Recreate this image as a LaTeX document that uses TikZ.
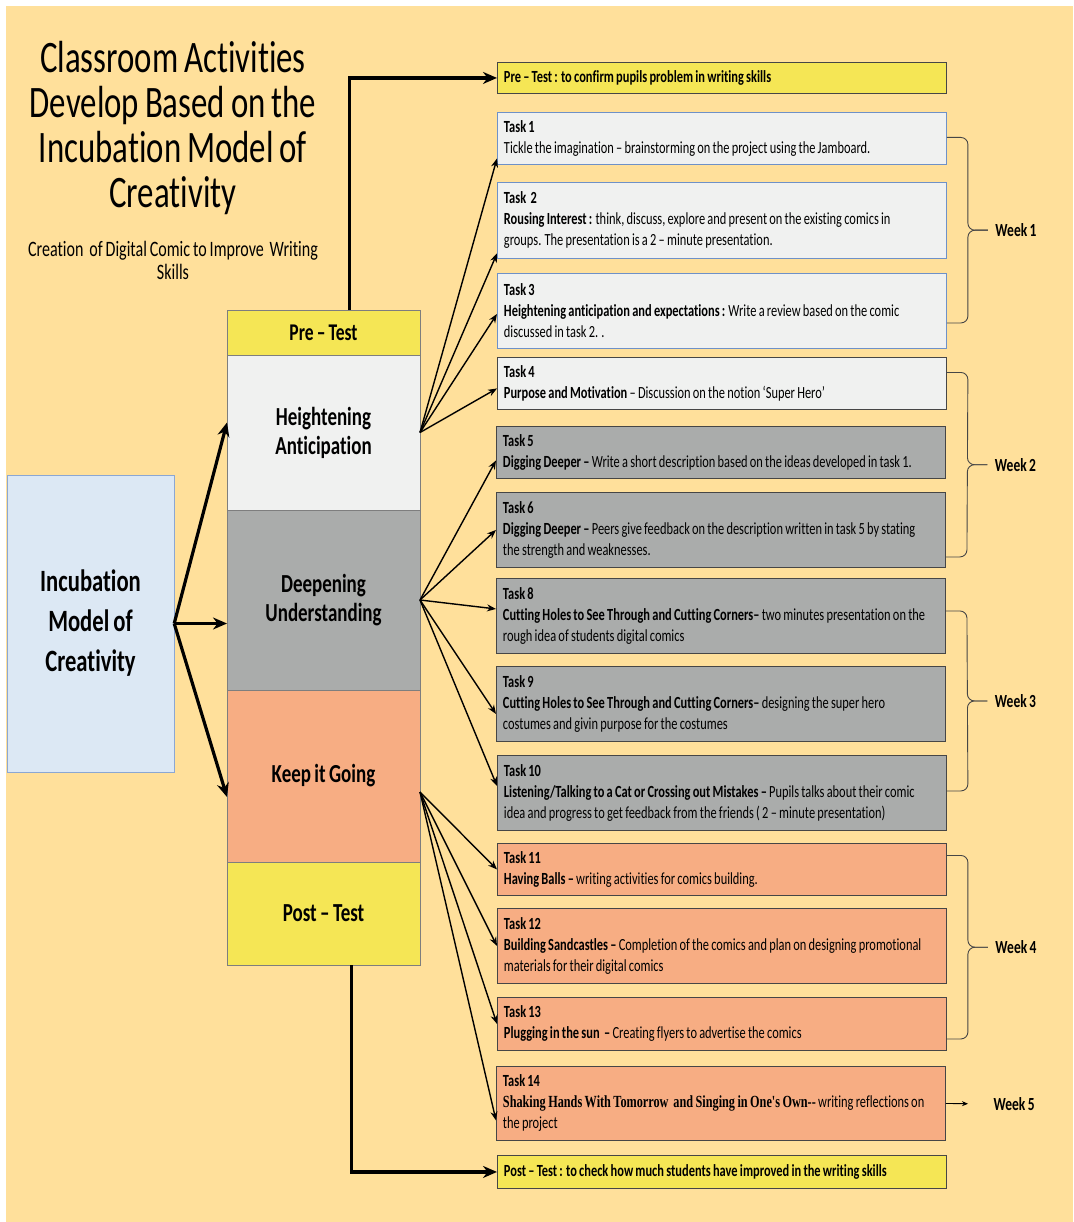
\documentclass[tikz,border=0pt]{standalone}
\usepackage{fontspec}
\setmainfont[FakeStretch=0.73, WordSpace=0.8, Ligatures=NoCommon]{Carlito}
\newfontfamily\timesbold[FakeStretch=0.72, WordSpace=0.8]{Liberation Serif}
\usetikzlibrary{arrows.meta,calc,positioning}

\definecolor{bgyellow}{RGB}{255,224,155}
\definecolor{testyellow}{RGB}{245,230,85}
\definecolor{lightgrey}{RGB}{240,241,240}
\definecolor{midgrey}{RGB}{170,172,171}
\definecolor{salmon}{RGB}{247,173,131}
\definecolor{paleblue}{RGB}{220,232,244}
\definecolor{taskblue}{RGB}{110,145,200}
\definecolor{darkline}{RGB}{70,70,70}

\begin{document}
\begin{tikzpicture}[x=1pt, y=-1pt,
	stage/.style = {draw=darkline!70, fill=#1, minimum width=193pt, outer sep=0pt, inner sep=0pt, align=center, font=\fontsize{26}{29}\selectfont\bfseries},
	task/.style = {draw=darkline, line width=0.9pt, fill=#1, minimum width=449pt, text width=436pt, inner xsep=6.5pt, inner ysep=0pt, align=flush left, anchor=north west, font=\fontsize{17}{21}\selectfont},
	link/.style = {-{Stealth[length=9pt, width=7pt]}, line width=1.4pt},
	biglink/.style = {-{Stealth[length=14pt, width=12pt]}, line width=3.2pt},
	bracket/.style = {draw=darkline, line width=0.9pt, rounded corners=7pt},
	weektag/.style = {anchor=west, font=\fontsize{18.5}{20}\selectfont\bfseries}]
	
	\useasboundingbox (0,0) rectangle (1073,1222);
	\fill[bgyellow] (6,6) rectangle (1073,1222);
	
	% title
	\node[font=\fontsize{45}{45}\selectfont, align=center] (title) at (173,128) {Classroom Activities\\Develop Based on the\\Incubation Model of\\Creativity};
	\node[font=\fontsize{22}{23}\selectfont, align=center] (subtitle) at (173,260) {Creation\ \ of Digital Comic to Improve\ \ Writing\\Skills};
	
	% model and stages
	\node[draw=taskblue!80, fill=paleblue, minimum width=167pt, minimum height=297pt, align=center, font=\fontsize{31}{40}\selectfont\bfseries] (incub) at (90.5,623.5) {Incubation\\Model of\\Creativity};
	
	\node[stage=testyellow, minimum height=45pt, font=\fontsize{24}{26}\selectfont\bfseries] (pre) at (323.5,332.5) {Pre -- Test};
	\node[stage=lightgrey, minimum height=155pt, below=0pt of pre] (heighten) {Heightening\\Anticipation};
	\node[stage=midgrey, minimum height=180pt, below=0pt of heighten] (deepen) {Deepening\\Understanding};
	\node[stage=salmon, minimum height=172pt, below=0pt of deepen] (keep) {Keep it Going};
	\node[stage=testyellow, minimum height=103pt, below=0pt of keep] (post) {Post -- Test};
	
	% tasks
	\node[task=testyellow, minimum height=31pt] (pretask) at (497,62) {\textbf{Pre -- Test : to confirm pupils problem in writing skills}};
	\node[task=lightgrey, draw=taskblue, minimum height=52pt] (t1) at (497,112) {\textbf{Task 1}\\Tickle the imagination -- brainstorming on the project using the Jamboard.};
	\node[task=lightgrey, draw=taskblue, minimum height=76pt] (t2) at (497,182) {\textbf{Task\ \ 2}\\\textbf{Rousing Interest :} think, discuss, explore and present on the existing comics in\\groups. The presentation is a 2 -- minute presentation.};
	\node[task=lightgrey, draw=taskblue, minimum height=75pt] (t3) at (497,273) {\textbf{Task 3}\\\textbf{Heightening anticipation and expectations :} Write a review based on the comic\\discussed in task 2. .};
	\node[task=lightgrey, minimum height=52pt] (t4) at (497,357) {\textbf{Task 4}\\\textbf{Purpose and Motivation} -- Discussion on the notion `Super Hero'};
	\node[task=midgrey, minimum height=52pt] (t5) at (496,426) {\textbf{Task 5}\\\textbf{Digging Deeper --} Write a short description based on the ideas developed in task 1.};
	\node[task=midgrey, minimum height=75pt] (t6) at (496,492) {\textbf{Task 6}\\\textbf{Digging Deeper --} Peers give feedback on the description written in task 5 by stating\\the strength and weaknesses.};
	\node[task=midgrey, minimum height=75pt] (t8) at (496,578) {\textbf{Task 8}\\\textbf{Cutting Holes to See Through and Cutting Corners--} two minutes presentation on the\\rough idea of students digital comics};
	\node[task=midgrey, minimum height=75pt] (t9) at (496,666) {\textbf{Task 9}\\\textbf{Cutting Holes to See Through and Cutting Corners--} designing the super hero\\costumes and givin purpose for the costumes};
	\node[task=midgrey, minimum height=75pt] (t10) at (497,755) {\textbf{Task 10}\\\textbf{Listening/Talking to a Cat or Crossing out Mistakes --} Pupils talks about their comic\\idea and progress to get feedback from the friends ( 2 -- minute presentation)};
	\node[task=salmon, minimum height=52pt] (t11) at (497,843) {\textbf{Task 11}\\\textbf{Having Balls --} writing activities for comics building.};
	\node[task=salmon, minimum height=75pt] (t12) at (497,908) {\textbf{Task 12}\\\textbf{Building Sandcastles --} Completion of the comics and plan on designing promotional\\materials for their digital comics};
	\node[task=salmon, minimum height=53pt] (t13) at (497,997) {\textbf{Task 13}\\\textbf{Plugging in the sun\ \ --} Creating flyers to advertise the comics};
	\node[task=salmon, minimum height=74pt] (t14) at (496,1066) {\textbf{Task 14}\\{\timesbold\bfseries Shaking Hands With Tomorrow\ \ and Singing in One's Own--} writing reflections on\\the project};
	\node[task=testyellow, minimum height=33pt] (posttask) at (497,1155) {\textbf{Post -- Test : to check how much students have improved in the writing skills}};
	
	% arrows
	\draw[biglink] (incub.east) -- ($(heighten.west)+(0,-10)$);
	\draw[biglink] (incub.east) -- (incub.east -| deepen.west);
	\draw[biglink] (incub.east) -- ($(keep.west)+(0,21)$);
	\draw[biglink] ($(pre.north)+(26,0)$) |- (pretask.west);
	\draw[biglink] ($(post.south)+(28,0)$) |- (posttask.west);
	
	\draw[link] (heighten.east) -- ($(t1.west)+(0,20)$);
	\draw[link] (heighten.east) -- ($(t2.west)+(0,33)$);
	\draw[link] (heighten.east) -- ($(t3.west)+(0,3)$);
	\draw[link] (heighten.east) -- ($(t4.west)+(0,5)$);
	
	\draw[link] (deepen.east) -- ($(t5.west)+(0,8)$);
	\draw[link] (deepen.east) -- (t6.west);
	\draw[link] (deepen.east) -- ($(t8.west)+(0,-7)$);
	\draw[link] (deepen.east) -- ($(t9.west)+(0,10)$);
	\draw[link] (deepen.east) -- ($(t10.west)+(0,-7)$);
	
	\coordinate (keepout) at ($(keep.east)+(0,16)$);
	\draw[link] (keepout) -- (t11.west);
	\draw[link] (keepout) -- (t12.west);
	\draw[link] (keepout) -- (t13.west);
	\draw[link] (keepout) -- ($(t14.west)+(0,17)$);
	
	% weeks
	\coordinate (b1a) at ($(t1.east)+(0,-1)$);  \coordinate (b1b) at ($(t3.east)+(0,12)$);
	\coordinate (b2a) at ($(t4.east)+(0,-11)$); \coordinate (b2b) at ($(t6.east)+(0,27)$);
	\coordinate (b3a) at ($(t8.east)+(0,-5)$);  \coordinate (b3b) at ($(t10.east)+(0,-2)$);
	\coordinate (b4a) at ($(t11.east)+(0,-14)$); \coordinate (b4b) at ($(t13.east)+(0,15)$);
	\foreach \w in {1,2,3,4} {
		\coordinate (m\w) at ($(b\w a)!0.5!(b\w b)$);
		\draw[bracket] (b\w a) -- ($(b\w a)+(21,0)$) -- ($(m\w)+(21,0)$) -- ($(m\w)+(41,0)$);
		\draw[bracket] (b\w b) -- ($(b\w b)+(21,0)$) -- ($(m\w)+(21,0)$) -- ($(m\w)+(41,0)$);
		\node[weektag] (w\w) at ($(m\w)+(45,0)$) {Week \w};
	}
	\node[weektag] (w5) at (990,1104) {Week 5};
	\draw[-{Stealth[length=6pt, width=5pt]}, line width=0.9pt, shorten >=22pt] (t14.east) -- (w5.west);
	
\end{tikzpicture}
\end{document}
